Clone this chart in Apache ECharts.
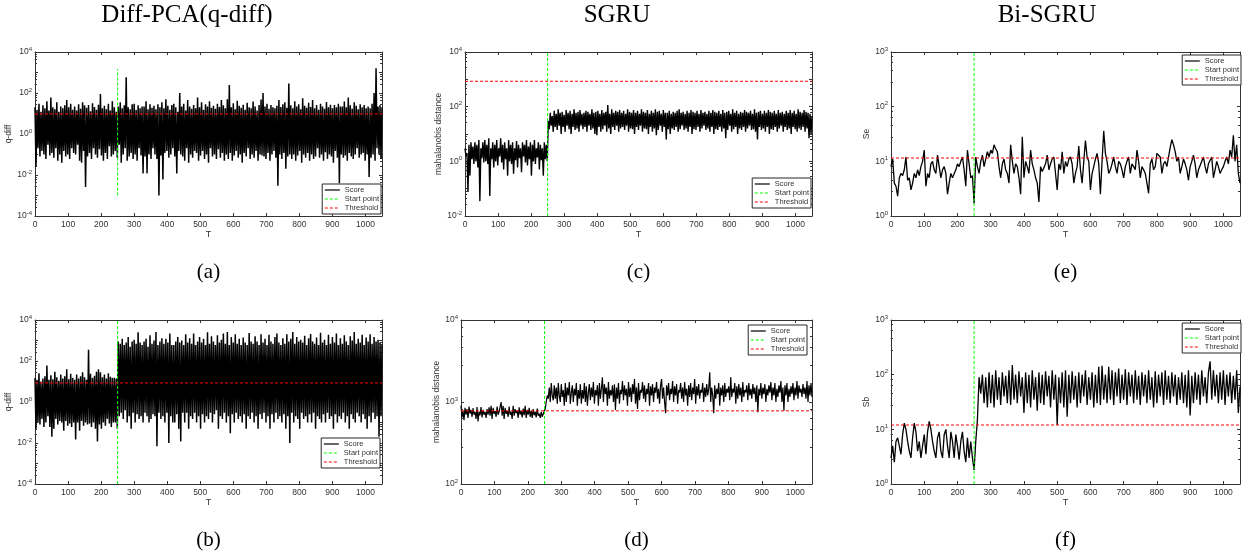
<!DOCTYPE html>
<html><head><meta charset="utf-8">
<script src="https://cdn.jsdelivr.net/npm/echarts@6.0.0/dist/echarts.min.js"></script>
<style>html,body{margin:0;padding:0;background:#fff}#c{width:1244px;height:557px}</style>
</head><body><div id="c"></div>
<script>
// ---------------- data ----------------
const T_MIN = 0, T_MAX = 1050;
const tSteps = [3, 3, 3, 3, 5, 5];   // sample spacing of each score array (T = index * step)
const colTitles = ['Diff-PCA(q-diff)', 'SGRU', 'Bi-SGRU'];
const panelLabels = ['(a)', '(b)', '(c)', '(d)', '(e)', '(f)'];
const yNames = ['q-diff', 'q-diff', 'mahalanobis distance', 'mahalanobis distance', 'Se', 'Sb'];
const yMin = [1e-4, 1e-4, 1e-2, 1e2, 1, 1];
const yMax = [1e4, 1e4, 1e4, 1e4, 1e3, 1e3];
const legendNames = ['Score', 'Start point', 'Threshold'];
const startT = 250;
const startLo = [1e-3, 1e-4, 1e-2, 1e2, 1, 1];
const startHi = [1500, 1e4, 1e4, 1e4, 1e3, 1e3];
const threshold = [9.5, 8.5, 850, 780, 11.5, 12];

const scoreA = [
20,0.025,15,0.2,30,0.08,12,0.15,25,0.1,
18,0.06,40,0.3,14,0.09,60,0.12,20,0.07,
16,0.2,35,0.05,12,0.1,22,0.04,18,0.15,
25,0.08,45,0.1,20,0.06,30,0.2,15,0.12,
22,0.1,14,0.3,28,0.05,17,0.04,35,0.15,
25,0.0026,19,0.08,26,0.12,13,0.06,32,0.2,
21,0.1,15,0.07,27,0.18,90,0.09,18,0.05,
24,0.12,16,0.06,30,0.25,14,0.08,40,0.1,
20,0.15,12,0.07,22,0.3,35,0.04,18,0.1,
25,0.2,590,0.05,20,0.08,16,0.12,28,0.06,
30,0.1,15,0.05,25,0.2,18,0.09,22,0.012,
22,0.08,40,0.012,16,0.1,28,0.06,19,0.2,
24,0.1,16,0.06,28,0.001,20,0.09,35,0.006,
18,0.12,50,0.15,24,0.07,15,0.1,26,0.2,
30,0.08,20,0.012,12,0.15,100,0.1,22,0.08,
30,0.05,14,0.2,45,0.04,22,0.1,17,0.07,
26,0.15,18,0.12,60,0.05,20,0.09,35,0.15,
15,0.06,28,0.1,22,0.04,40,0.2,19,0.08,
24,0.1,17,0.06,30,0.18,21,0.07,45,0.12,
25,0.05,18,0.1,50,0.06,245,0.12,20,0.05,
32,0.09,16,0.15,42,0.07,24,0.1,19,0.04,
27,0.12,15,0.08,33,0.2,20,0.06,18,0.1,
38,0.07,22,0.15,14,0.05,26,0.1,48,0.09,
100,0.08,22,0.06,30,0.12,17,0.05,26,0.1,
20,0.15,18,0.07,24,0.003,45,0.1,21,0.06,
28,0.12,35,0.02,19,0.08,290,0.1,25,0.06,
18,0.1,40,0.05,22,0.09,28,0.15,16,0.04,
55,0.1,24,0.07,19,0.12,33,0.05,21,0.1,
45,0.06,18,0.08,26,0.2,15,0.07,30,0.1,
22,0.05,17,0.13,36,0.06,20,0.1,27,0.08,
18,0.04,26,0.15,20,0.07,30,0.004,22,0.1,
22,0.07,38,0.09,20,0.05,60,0.12,25,0.08,
17,0.06,35,0.1,24,0.2,16,0.07,28,0.1,
20,0.12,26,0.05,18,0.1,22,0.008,18,0.07,
30,0.1,100,0.05,1600,0.2,22,0.1,25,0.06,
20];

const scoreB = [
15,0.05,12,0.1,25,0.08,10,0.15,14,0.06,
18,0.1,60,0.2,12,0.06,20,0.02,13,0.05,
30,0.15,16,0.08,11,0.12,22,0.1,14,0.04,
18,0.12,40,0.07,13,0.09,24,0.06,15,0.1,
12,0.015,22,0.1,14,0.04,18,0.12,28,0.07,
16,0.1,12,0.08,350,0.09,24,0.06,15,0.1,
19,0.05,30,0.012,40,0.08,28,0.05,16,0.1,
22,0.07,14,0.15,25,0.09,17,0.06,15,0.1,
15,0.1,14,0.05,900,0.2,700,0.3,1200,0.15,
600,0.4,800,0.1,1500,0.2,500,0.05,900,0.3,
1100,0.1,700,0.25,2500,0.15,800,0.2,600,0.1,
900,0.3,1200,0.2,500,0.1,1800,0.15,700,0.25,
1000,0.2,2600,0.007,600,0.3,900,0.15,1300,0.2,
700,0.1,1200,0.3,800,0.01,2200,0.2,600,0.1,
600,0.1,900,0.25,1500,0.05,800,0.012,1000,0.3,
600,0.1,2000,0.3,800,0.05,1300,0.2,700,0.15,
2200,0.3,600,0.1,900,0.2,1500,0.05,800,0.25,
1200,0.1,600,0.2,2500,0.15,700,0.3,1600,0.1,
900,0.25,600,0.4,1800,0.05,800,0.2,1100,0.15,
2200,0.3,700,0.1,2600,0.2,600,0.03,1500,0.25,
800,0.1,2000,0.3,700,0.15,1200,0.2,600,0.1,
1400,0.25,800,0.05,600,0.2,2300,0.15,900,0.3,
700,0.1,1600,0.2,900,0.05,600,0.25,2000,0.15,
800,0.3,1200,0.1,600,0.2,1900,0.05,900,0.25,
700,0.1,1500,0.3,2200,0.15,800,0.2,600,0.1,
1300,0.25,700,0.05,2000,0.2,900,0.01,1200,0.3,
2600,0.1,700,0.2,1500,0.15,900,0.05,1100,0.3,
800,0.15,1700,0.2,600,0.1,1300,0.25,2100,0.1,
900,0.3,700,0.05,1400,0.2,600,0.15,2400,0.1,
800,0.25,1100,0.1,600,0.3,1900,0.15,700,0.2,
1500,0.05,800,0.25,2200,0.1,600,0.2,1300,0.15,
700,0.3,1800,0.1,900,0.2,600,0.05,1600,0.25,
1000,0.15,2600,0.1,700,0.3,1200,0.2,800,0.1,
1900,0.25,600,0.15,1400,0.05,900,0.2,2000,0.1,
700,0.3,1500,0.15,900,0.2,1100,0.02,800,0.2,
600];

const scoreC = [
3,1.5,2,0.075,4,0.3,5,1.2,3.5,0.8,
5,1,4,0.6,6,0.035,3,1.3,5,0.9,
6,1,4,0.8,7,0.054,3,1.2,5,0.6,
4,1,6,0.7,3,1.5,7,0.9,4,0.5,
5,1.2,3,0.3,6,1,4,0.8,5,0.35,
3,1.1,5.5,0.6,4,1.3,3,0.4,5,1.5,
4,0.9,6,0.7,3.5,1.2,5,0.3,4,1,
6,0.8,3,1.4,5,0.5,4,1.1,3,0.3,
5,1.2,4,1,30,15,60,20,45,12,
70,18,55,14,80,20,60,10,65,18,
50,12,75,20,60,15,70,10,55,18,
80,14,60,16,65,12,75,20,55,15,
60,18,70,12,65,20,55,14,80,16,
60,10,65,9,70,18,55,12,75,15,
60,20,65,12,115,16,55,10,80,18,
60,14,70,20,65,12,75,16,60,18,
70,14,55,20,80,12,65,16,60,15,
75,10,60,18,70,14,55,20,80,12,
65,16,60,15,75,10,55,18,70,12,
60,16,80,9,65,14,70,20,55,12,
75,18,60,6.3,60,15,70,10,55,16,
65,14,60,18,70,12,80,15,60,20,
65,14,55,16,70,12,60,18,75,10,
65,15,60,14,70,18,55,12,75,16,
60,20,65,14,55,16,70,12,60,18,
75,10,65,15,60,14,70,18,55,12,
75,16,60,7,65,14,70,20,55,12,
80,15,60,18,70,10,55,16,65,14,
60,18,75,12,65,16,60,20,70,14,
55,15,80,12,60,6.3,65,18,70,14,
55,16,70,12,60,18,75,10,65,15,
60,14,70,18,55,12,75,16,60,20,
65,12,55,18,70,14,60,16,75,10,
60,18,70,15,55,12,80,16,65,14,
60,18,75,12,65,16,60,7,55,10,
45];

const scoreD = [
900,650,780,600,850,700,820,640,880,720,
800,660,840,700,760,620,870,580,760,690,
870,650,800,700,760,640,820,700,860,680,
900,620,850,720,780,660,880,700,760,740,
1000,680,900,620,850,720,780,660,880,700,
760,620,900,680,820,730,790,640,860,700,
780,650,830,690,900,640,800,700,850,660,
780,640,820,690,760,650,830,680,720,640,
760,660,720,700,820,1000,1200,1100,1500,1000,
1700,1200,1050,1600,1100,1500,950,1700,1200,1000,
1650,1150,1400,900,1700,1000,1500,1200,1750,950,
1300,1600,1000,1450,1200,1700,900,1400,1100,1650,
950,1400,1100,1700,1000,1550,900,1300,1650,1050,
1500,1150,1750,950,1400,1200,1600,900,1700,1100,
1450,2000,1000,1650,1250,1500,900,1750,1100,1400,
1200,1600,1000,1650,800,1500,1100,1700,950,1400,
1250,1800,1050,1600,1200,1450,900,1750,1150,1500,
1000,1650,1250,1900,950,1500,820,1700,1050,1400,
1300,1750,1100,1600,1000,1450,1250,1700,900,1550,
1200,1650,1000,1500,1300,1750,1100,1450,950,1600,
1900,1100,1500,1000,730,1600,1200,1700,1050,1450,
1250,1800,1000,1550,1200,1650,950,1400,1300,1700,
1100,1500,1000,1750,1200,1450,900,1600,1150,1700,
1050,1500,1250,1900,950,1550,1200,1650,1100,1400,
1300,1700,1000,1500,1150,1650,1200,1450,2300,1000,
1500,1200,730,1600,1100,1450,1250,1700,900,1500,
1200,1600,1000,1700,1150,1450,1300,1550,1050,2000,
1150,1450,1300,1700,950,1550,1100,1650,1200,1500,
1000,1750,1150,1400,1300,1600,1050,1700,1200,1450,
1100,1650,1250,1500,1000,1600,750,1450,1200,1700,
1100,1500,1250,1650,1000,1450,1200,1600,1300,1750,
1050,1500,1200,1700,1000,1450,1150,1600,1300,1800,
1000,1500,780,1600,1200,1700,1000,1450,1150,1550,
1250,1700,1050,1500,1200,1800,1100,1600,1300,1450,
1150,1650,1250,1500,1100,1800,1000,1600,1200,1700,
1150];

const scoreE = [
8,11,4,3.5,2.3,5,6,5.5,7,12,
4.5,5,3,4,6,5,7,5.5,8,10,
16,3.5,6,5,9,10,7,6,13,8,
5,7,8,6,2.5,4,6,5,5,7,
9,8,10,12,7,3.5,16,9,5,5.5,
1.7,12,8,6,10,13,8,11,15,12,
16,14,20,17,15,8,5,9,11,7,
6,4,20,10,6,9,8,5,2.5,28,
5,10,8,6,16,9,7,5,4,1.8,
8,6.5,6,9,13,7,9,11,12,6,
3,9,7,15,6,10,8,11,12,9,
4,6,8,19,7,4,10,24,12,10,
3,6,8,11,14,9,2.5,10,36,14,
10,6,7,9,12,8,6,10,9,7,
5,8,10,12,6,9,8,7,16,10,
5,8,7,6,4,2.6,9,11,7,8,
14,15,12,6,9,10,8,12,18,25,
20,15,10,12,6,8,11,9,7,4.5,
8,10,13,9,5,7,7,10,12,8,
6,9,9,12,5,7,10,8,6,7,
8,10,12,9,16,12,30,10,20,6,
4];

const scoreF = [
3,5,2.5,6,7,5,3.5,8,13,10,
6,4,3,7,13,9,4,6,3,5,
8,3.5,9,14,10,6,4,3,7,9,
4,3,8,10,5,3,9,6,3,8,
5,2.8,6,9,4,2.5,7,3,6,3,
1.8,6,15,90,45,100,30,90,25,110,
30,100,25,120,35,90,28,110,40,95,
30,120,28,150,35,100,30,115,40,90,
20,110,30,100,25,120,35,90,22,110,
30,100,28,115,40,95,25,120,35,100,
12,90,30,110,25,120,17,100,30,115,
35,95,25,110,30,100,40,120,28,90,
35,110,25,100,30,140,28,145,35,100,
30,140,35,120,28,110,40,130,30,100,
35,125,28,110,40,100,30,120,35,95,
28,110,40,100,30,120,35,90,25,115,
30,100,40,110,28,120,35,95,30,110,
40,100,28,90,35,110,30,100,25,120,
18,95,30,110,35,100,28,120,40,90,
30,110,175,35,120,40,100,30,110,35,
120,28,100,40,110,30,95,35,120,20,
60];

const scores = [scoreA, scoreB, scoreC, scoreD, scoreE, scoreF];
const showOddDecade = [false, false, false, true, true, true];

// ---------------- layout / style ----------------
const grids = [
  {left: 35,  top: 52,  width: 347, height: 164},
  {left: 35,  top: 320, width: 347, height: 164},
  {left: 465, top: 52,  width: 347, height: 164},
  {left: 461, top: 320, width: 351, height: 164},
  {left: 891, top: 52,  width: 349, height: 164},
  {left: 891, top: 320, width: 349, height: 164}
];
const scoreWidth = [1.5, 1.5, 1.4, 1.2, 1.3, 1.3];
const legendPos = [
  {right: 863, top: 184}, {right: 864, top: 438},
  {right: 433, top: 178}, {right: 437, top: 325},
  {right: 3, top: 55},    {right: 3, top: 323}
];
const colCenters = [187, 617, 1047];
const nameGaps = [20, 20, 21, 19, 19, 20];

const AX = '#333333';
const SANS = 'Liberation Sans, Arial, Helvetica, sans-serif';
const SERIF = 'Liberation Serif, Times New Roman, serif';

const xAxes = [], yAxes = [], series = [], legends = [], titles = [];

function logLabel(showOdd) {
  return function (v) {
    const e = Math.round(Math.log10(v));
    if (!showOdd && e % 2 !== 0) return '';
    return '{b|10}{s|' + e + '}';
  };
}

grids.forEach((g, i) => {
  const tick = {show: true, inside: true, length: 3, lineStyle: {color: AX, width: 1}};
  const line = {show: true, onZero: false, lineStyle: {color: AX, width: 1}};
  xAxes.push({
    type: 'value', gridIndex: i, min: T_MIN, max: T_MAX, interval: 100, position: 'bottom',
    axisLine: line, axisTick: tick, splitLine: {show: false},
    axisLabel: {show: true, margin: 4, fontSize: 8.5, color: AX, fontFamily: SANS, interval: 0,
      formatter: v => (v % 100 === 0 ? String(v) : '')},
    name: 'T', nameLocation: 'middle', nameGap: 13,
    nameTextStyle: {fontSize: 9, color: AX, fontFamily: SANS}
  });
  xAxes.push({
    type: 'value', gridIndex: i, min: T_MIN, max: T_MAX, interval: 100, position: 'top',
    axisLine: line, axisTick: tick, splitLine: {show: false}, axisLabel: {show: false}
  });
  const ylab = {
    show: true, margin: 3, color: AX, fontFamily: SANS, formatter: logLabel(showOddDecade[i]),
    rich: {
      b: {fontSize: 8.5, color: AX, fontFamily: SANS, lineHeight: 12},
      s: {fontSize: 6, color: AX, fontFamily: SANS, verticalAlign: 'top', lineHeight: 8}
    }
  };
  const minor = {show: true, splitNumber: 5, length: 2, lineStyle: {color: AX, width: 1}};
  yAxes.push({
    type: 'log', logBase: 10, gridIndex: i, min: yMin[i], max: yMax[i], position: 'left',
    axisLine: line, axisTick: tick, minorTick: minor, splitLine: {show: false}, axisLabel: ylab,
    name: yNames[i], nameLocation: 'middle', nameGap: nameGaps[i],
    nameTextStyle: {fontSize: 8.5, color: AX, fontFamily: SANS}
  });
  yAxes.push({
    type: 'log', logBase: 10, gridIndex: i, min: yMin[i], max: yMax[i], position: 'right',
    axisLine: line, axisTick: tick, minorTick: minor, splitLine: {show: false}, axisLabel: {show: false}
  });
  const xi = 2 * i, yi = 2 * i;
  series.push({
    name: legendNames[0], type: 'line', xAxisIndex: xi, yAxisIndex: yi,
    symbol: 'none', showSymbol: false, silent: true, z: 2,
    lineStyle: {color: '#000', width: scoreWidth[i]}, itemStyle: {color: '#000'},
    data: scores[i].map((v, k) => [T_MIN + k * tSteps[i], v])
  });
  series.push({
    name: legendNames[1], type: 'line', xAxisIndex: xi, yAxisIndex: yi,
    symbol: 'none', silent: true, z: 3,
    lineStyle: {color: '#00ff00', width: 1, type: [3, 2]}, itemStyle: {color: '#00ff00'},
    data: [[startT, startLo[i]], [startT, startHi[i]]]
  });
  series.push({
    name: legendNames[2], type: 'line', xAxisIndex: xi, yAxisIndex: yi,
    symbol: 'none', silent: true, z: 3,
    lineStyle: {color: '#ff0000', width: 1, type: [3, 2]}, itemStyle: {color: '#ff0000'},
    data: [[T_MIN, threshold[i]], [T_MAX, threshold[i]]]
  });
  legends.push(Object.assign({
    data: legendNames, orient: 'vertical', itemWidth: 15, itemHeight: 8, itemGap: 1,
    padding: [2, 2, 2, 2], backgroundColor: '#fff', borderColor: '#262626', borderWidth: 1,
    borderRadius: 0, selectedMode: false,
    itemStyle: {opacity: 0},
    lineStyle: {width: 1.2},
    textStyle: {fontSize: 7.5, color: AX, fontFamily: SANS}
  }, legendPos[i]));
  titles.push({
    text: panelLabels[i], left: g.left + g.width / 2, top: g.top + 210, textAlign: 'center', padding: 0,
    textStyle: {fontSize: 21, fontWeight: 'normal', color: '#000', fontFamily: SERIF}
  });
});
colTitles.forEach((t, j) => {
  titles.push({
    text: t, left: colCenters[j], top: 3, textAlign: 'center', padding: 0,
    textStyle: {fontSize: 25, fontWeight: 'normal', color: '#000', fontFamily: SERIF}
  });
});

const chart = echarts.init(document.getElementById('c'), null, {renderer: 'canvas'});
chart.setOption({
  animation: false,
  backgroundColor: '#fff',
  title: titles,
  grid: grids.map(g => Object.assign({show: false}, g)),
  xAxis: xAxes,
  yAxis: yAxes,
  legend: legends,
  series: series
});
</script>
</body></html>
